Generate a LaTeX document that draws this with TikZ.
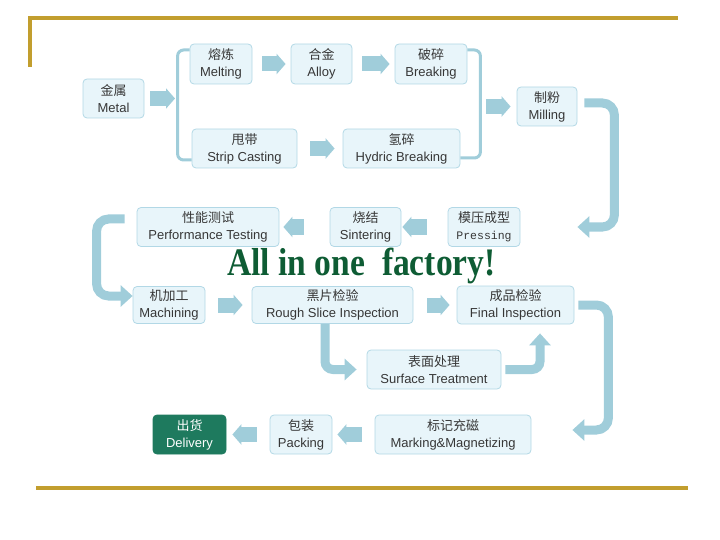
\documentclass[tikz,border=0pt]{standalone}
\usepackage{fontspec}
\setmainfont{Liberation Sans}
\newfontfamily\cjk{Noto Sans CJK SC}
\newfontfamily\monofont{Liberation Mono}
\newfontfamily\titlefont{Liberation Serif}
\usetikzlibrary{arrows.meta}
\definecolor{boxfill}{RGB}{232,245,250}
\definecolor{boxline}{RGB}{178,216,230}
\definecolor{boxtext}{RGB}{55,55,55}
\definecolor{flowcol}{RGB}{160,205,218}
\definecolor{delivgreen}{RGB}{30,122,94}
\definecolor{titlegreen}{RGB}{14,92,52}
\definecolor{goldline}{RGB}{194,158,46}
\tikzset{
  stepbox/.style={draw=boxline, fill=boxfill, rounded corners=4pt, line width=0.8pt, text=boxtext, align=center, inner sep=0pt, font=\fontsize{13}{17}\selectfont},
  flow/.style={draw=flowcol, line width=15pt, -{Triangle[length=9pt,width=20pt]}},
  bentflow/.style={draw=flowcol, line width=9pt, rounded corners=12pt, -{Triangle[length=12pt,width=21pt]}},
  brace/.style={draw=flowcol, line width=3pt, rounded corners=6pt},
  gold/.style={draw=goldline, line width=3.2pt}
}
\begin{document}
\begin{tikzpicture}[x=1pt,y=-1pt]
\useasboundingbox (0,0) rectangle (720,540);
% frame lines
\draw[gold] (30,67) -- (30,18) -- (678,18);
\draw[gold] (36,488) -- (688,488);
% steps
\node[stepbox, minimum width=61pt, minimum height=39pt] (metal) at (113.5,98.5) {{\cjk 金属}\\Metal};
\node[stepbox, minimum width=62pt, minimum height=40pt] (melt) at (221,64) {{\cjk 熔炼}\\Melting};
\node[stepbox, minimum width=61pt, minimum height=40pt] (alloy) at (321.5,64) {{\cjk 合金}\\Alloy};
\node[stepbox, minimum width=72pt, minimum height=40pt] (breaking) at (431,64) {{\cjk 破碎}\\Breaking};
\node[stepbox, minimum width=105pt, minimum height=39pt] (strip) at (244.5,148.5) {{\cjk 甩带}\\Strip Casting};
\node[stepbox, minimum width=117pt, minimum height=39pt] (hydric) at (401.5,148.5) {{\cjk 氢碎}\\Hydric Breaking};
\node[stepbox, minimum width=60pt, minimum height=39pt] (mill) at (547,106.5) {{\cjk 制粉}\\Milling};
\node[stepbox, minimum width=72pt, minimum height=39pt] (press) at (484,227) {{\cjk 模压成型}\\{\monofont\fontsize{11.5}{17}\selectfont Pressing}};
\node[stepbox, minimum width=71pt, minimum height=39pt] (sinter) at (365.5,227) {{\cjk 烧结}\\Sintering};
\node[stepbox, minimum width=142pt, minimum height=39pt] (perf) at (208,227) {{\cjk 性能测试}\\Performance Testing};
\node[stepbox, minimum width=72pt, minimum height=37pt] (mach) at (169,305) {{\cjk 机加工}\\Machining};
\node[stepbox, minimum width=161pt, minimum height=37pt] (rough) at (332.5,305) {{\cjk 黑片检验}\\Rough Slice Inspection};
\node[stepbox, minimum width=117pt, minimum height=38pt] (final) at (515.5,305) {{\cjk 成品检验}\\Final Inspection};
\node[stepbox, minimum width=134pt, minimum height=39pt] (surf) at (434,369.5) {{\cjk 表面处理}\\Surface Treatment};
\node[stepbox, minimum width=156pt, minimum height=39pt] (mark) at (453,434.5) {{\cjk 标记充磁}\\Marking\&Magnetizing};
\node[stepbox, minimum width=62pt, minimum height=39pt] (pack) at (301,434.5) {{\cjk 包装}\\Packing};
\node[stepbox, minimum width=73pt, minimum height=39pt, fill=delivgreen, draw=delivgreen, text=white] (deliv) at (189.5,434.5) {{\cjk 出货}\\Delivery};
% slogan
\node[font=\titlefont\bfseries\fontsize{39}{39}\selectfont, text=titlegreen, anchor=base, xscale=0.86, inner sep=0pt] (slogan) at (361.5,275) {All in one\ \ factory!};
% brackets
\coordinate (lbr) at (178,98.5);
\coordinate (rbr) at (480,106.5);
\draw[brace] ([yshift=14pt]melt.west) -- ++(-12,0) -- ++(0,110) -- ([yshift=-11.5pt]strip.west);
\draw[brace] ([yshift=14pt]breaking.east) -- ++(13,0) -- ++(0,108) -- ([yshift=-9.5pt]hydric.east);
% straight arrows
\draw[flow, shorten <=6pt, shorten >=3pt] (metal) -- (lbr);
\draw[flow, shorten <=10pt, shorten >=5pt] (melt) -- (alloy);
\draw[flow, shorten <=10pt, shorten >=5pt] (alloy) -- (breaking);
\draw[flow, shorten <=13pt, shorten >=8pt] (strip) -- (hydric);
\draw[flow, shorten <=6pt, shorten >=6pt] (rbr) -- (mill);
\draw[flow, shorten <=21pt, shorten >=1pt] (press) -- (sinter);
\draw[flow, shorten <=26pt, shorten >=4pt] (sinter) -- (perf);
\draw[flow, shorten <=13pt, shorten >=9pt] (mach) -- (rough);
\draw[flow, shorten <=14pt, shorten >=7pt] (rough) -- (final);
\draw[flow, shorten <=13pt, shorten >=5pt] (mark) -- (pack);
\draw[flow, shorten <=13pt, shorten >=6pt] (pack) -- (deliv);
% bent arrows
\draw[bentflow] ([xshift=7pt,yshift=3.5pt]mill.east) -- ++(30,0) -- ++(0,124) -- ++(-37,0);
\draw[bentflow] ([xshift=-12pt,yshift=8pt]perf.west) -- ++(-28,0) -- ++(0,77) -- ([yshift=9pt]mach.west);
\draw[bentflow, rounded corners=8pt, shorten >=10pt] ([xshift=-7.5pt]rough.south) |- (surf.west);
\draw[bentflow, rounded corners=8pt, shorten >=9pt] ([xshift=4pt]surf.east) -| ([xshift=24.5pt]final.south);
\draw[bentflow] ([xshift=4pt]final.east) -- ++(30,0) -- ++(0,125) -- ++(-36,0);
\end{tikzpicture}
\end{document}
